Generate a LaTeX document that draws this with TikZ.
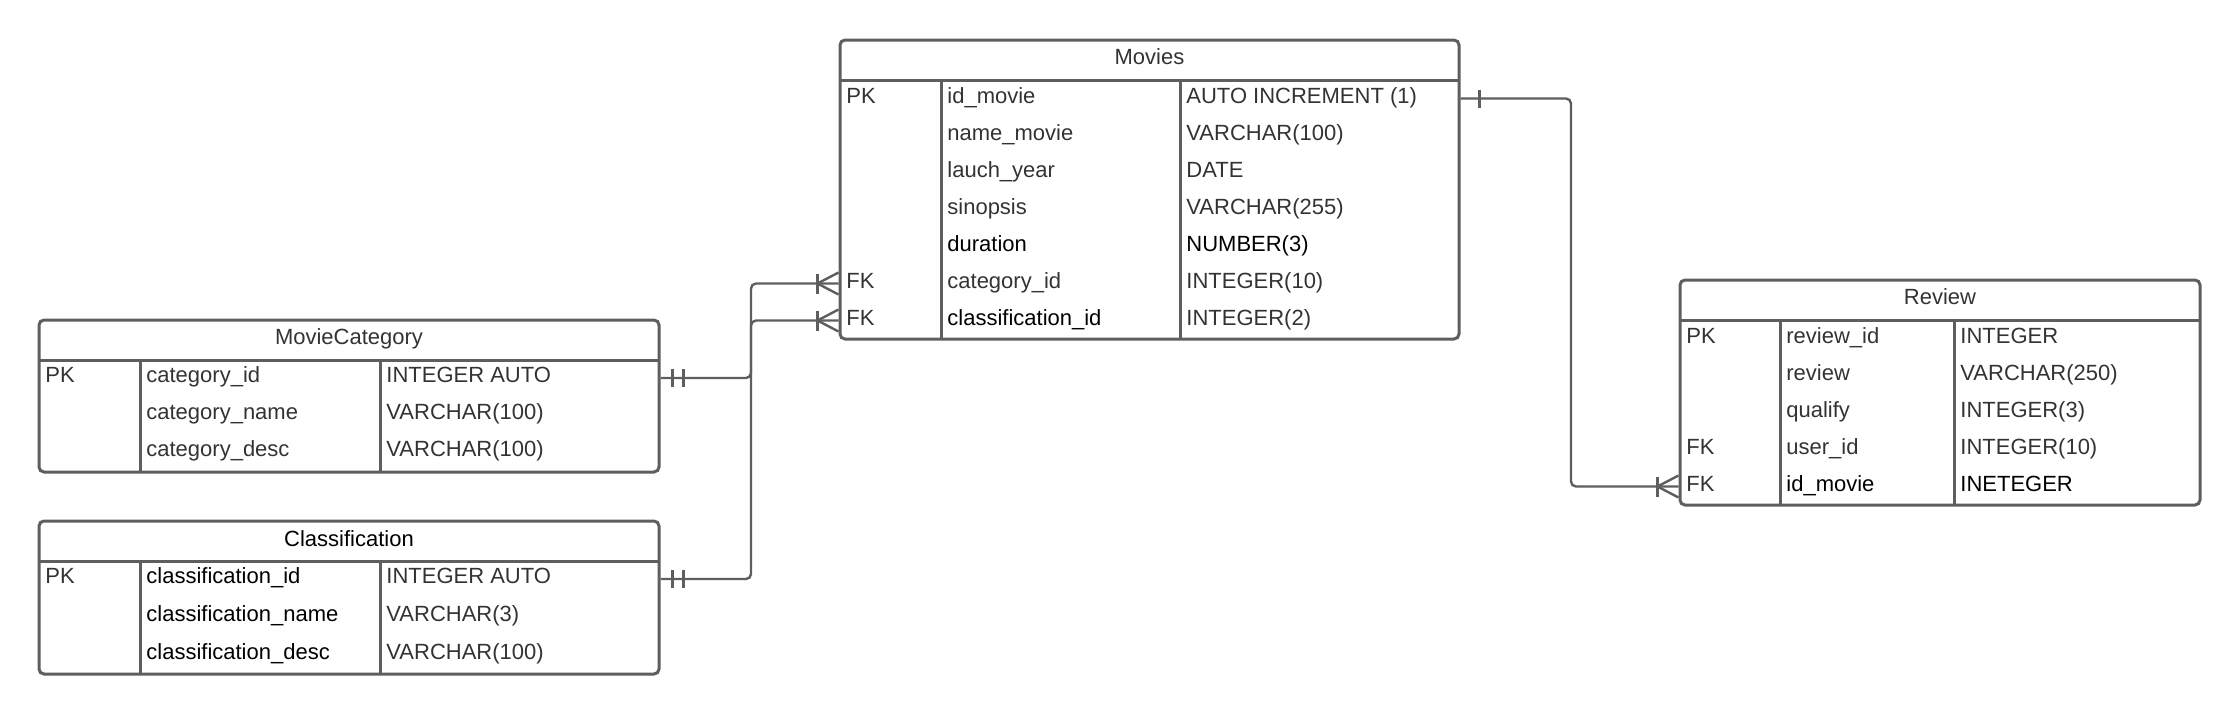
\documentclass[tikz,border=0pt]{standalone}
\usepackage{fontspec}
\setmainfont{Liberation Sans}
\usetikzlibrary{fit}

\definecolor{linegray}{HTML}{5E5E5E}
\definecolor{textgray}{HTML}{333333}

\begin{document}
\begin{tikzpicture}
                [
                x=0.5pt, y=-0.5pt,
                every node/.style={font=\fontsize{11}{13}\selectfont},
                tablebox/.style={rectangle,draw=linegray,line width=1.5pt,rounded corners=2.5pt,inner sep=0pt},
                tableline/.style={draw=linegray,line width=1.5pt},
                tabletitle/.style={anchor=center,text=textgray,inner sep=0pt,text height=7pt,text depth=3pt},
                field/.style={anchor=west,text=textgray,inner sep=0pt,text height=7pt,text depth=2.5pt},
                strong/.style={text=black},
                rel/.style={draw=linegray,line width=1.2pt,rounded corners=2.5pt},
                relmark/.style={draw=linegray,line width=1.2pt}
                ]
            \useasboundingbox (0,0) rectangle (2240,714);

            % Movies
            \node[tablebox,fit={(840,40) (1459,339)}] (movies) {};
            \draw[tableline] (840,80) -- (1459,80);
            \draw[tableline] (941,80) -- (941,339);
            \draw[tableline] (1180,80) -- (1180,339);
            \node[tabletitle] (mvt) at (1149.5,60) {Movies};
            \node[field] (mv1k) at (846,98.5) {PK};
            \node[field] (mv1n) at (947,98.5) {id\_movie};
            \node[field] (mv1t) at (1186,98.5) {AUTO INCREMENT (1)};
            \node[field] (mv2n) at (947,135.5) {name\_movie};
            \node[field] (mv2t) at (1186,135.5) {VARCHAR(100)};
            \node[field] (mv3n) at (947,172.5) {lauch\_year};
            \node[field] (mv3t) at (1186,172.5) {DATE};
            \node[field] (mv4n) at (947,209.5) {sinopsis};
            \node[field] (mv4t) at (1186,209.5) {VARCHAR(255)};
            \node[field,strong] (mv5n) at (947,246.5) {duration};
            \node[field,strong] (mv5t) at (1186,246.5) {NUMBER(3)};
            \node[field] (mv6k) at (846,283.5) {FK};
            \node[field] (mv6n) at (947,283.5) {category\_id};
            \node[field] (mv6t) at (1186,283.5) {INTEGER(10)};
            \node[field] (mv7k) at (846,320.5) {FK};
            \node[field,strong] (mv7n) at (947,320.5) {classification\_id};
            \node[field] (mv7t) at (1186,320.5) {INTEGER(2)};

            % MovieCategory
            \node[tablebox,fit={(39,320) (659,472)}] (moviecategory) {};
            \draw[tableline] (39,360) -- (659,360);
            \draw[tableline] (140,360) -- (140,472);
            \draw[tableline] (380,360) -- (380,472);
            \node[tabletitle] (mct) at (349,340) {MovieCategory};
            \node[field] (mc1k) at (45,378) {PK};
            \node[field] (mc1n) at (146,378) {category\_id};
            \node[field] (mc1t) at (386,378) {INTEGER AUTO};
            \node[field] (mc2n) at (146,415) {category\_name};
            \node[field] (mc2t) at (386,415) {VARCHAR(100)};
            \node[field] (mc3n) at (146,452) {category\_desc};
            \node[field] (mc3t) at (386,452) {VARCHAR(100)};

            % Classification
            \node[tablebox,fit={(39,521) (659,674)}] (classification) {};
            \draw[tableline] (39,561) -- (659,561);
            \draw[tableline] (140,561) -- (140,674);
            \draw[tableline] (380,561) -- (380,674);
            \node[tabletitle,strong] (clt) at (349,542) {Classification};
            \node[field] (cl1k) at (45,579) {PK};
            \node[field,strong] (cl1n) at (146,579) {classification\_id};
            \node[field] (cl1t) at (386,579) {INTEGER AUTO};
            \node[field,strong] (cl2n) at (146,617) {classification\_name};
            \node[field] (cl2t) at (386,617) {VARCHAR(3)};
            \node[field,strong] (cl3n) at (146,655) {classification\_desc};
            \node[field] (cl3t) at (386,655) {VARCHAR(100)};

            % Review
            \node[tablebox,fit={(1680,280) (2200,505)}] (review) {};
            \draw[tableline] (1680,320) -- (2200,320);
            \draw[tableline] (1780,320) -- (1780,505);
            \draw[tableline] (1954,320) -- (1954,505);
            \node[tabletitle] (rvt) at (1940,300) {Review};
            \node[field] (rv1k) at (1686,338.5) {PK};
            \node[field] (rv1n) at (1786,338.5) {review\_id};
            \node[field] (rv1t) at (1960,338.5) {INTEGER};
            \node[field] (rv2n) at (1786,375.5) {review};
            \node[field] (rv2t) at (1960,375.5) {VARCHAR(250)};
            \node[field] (rv3n) at (1786,412.5) {qualify};
            \node[field] (rv3t) at (1960,412.5) {INTEGER(3)};
            \node[field] (rv4k) at (1686,449.5) {FK};
            \node[field] (rv4n) at (1786,449.5) {user\_id};
            \node[field] (rv4t) at (1960,449.5) {INTEGER(10)};
            \node[field] (rv5k) at (1686,486.5) {FK};
            \node[field,strong] (rv5n) at (1786,486.5) {id\_movie};
            \node[field,strong] (rv5t) at (1960,486.5) {INETEGER};

            % relations
            \coordinate (jl) at (751,0);
            \coordinate (jr) at (1571,0);
            \draw[rel] (movies.east |- mv1k) -| (jr |- rv5k) -- (review.west |- rv5k);
            \draw[rel] (moviecategory.east |- mc1k) -| (jl |- mv6k) -- (movies.west |- mv6k);
            \draw[rel] (classification.east |- cl1k) -| (jl |- mv7k) -- (movies.west |- mv7k);

            % one
            \draw[relmark] (movies.east |- mv1k) ++(19,-9) -- ++(0,18);
            % one and only one
            \draw[relmark] (moviecategory.east |- mc1k) ++(12,-9) -- ++(0,18);
            \draw[relmark] (moviecategory.east |- mc1k) ++(23,-9) -- ++(0,18);
            \draw[relmark] (classification.east |- cl1k) ++(12,-9) -- ++(0,18);
            \draw[relmark] (classification.east |- cl1k) ++(23,-9) -- ++(0,18);
            % one or many
            \draw[relmark] (review.west |- rv5k) ++(-21,-10) -- ++(0,20);
            \draw[relmark] (review.west |- rv5k) ++(0,-11) -- ++(-21,11) -- ++(21,11);
            \draw[relmark] (movies.west |- mv6k) ++(-21,-10) -- ++(0,20);
            \draw[relmark] (movies.west |- mv6k) ++(0,-11) -- ++(-21,11) -- ++(21,11);
            \draw[relmark] (movies.west |- mv7k) ++(-21,-10) -- ++(0,20);
            \draw[relmark] (movies.west |- mv7k) ++(0,-11) -- ++(-21,11) -- ++(21,11);
\end{tikzpicture}
\end{document}
